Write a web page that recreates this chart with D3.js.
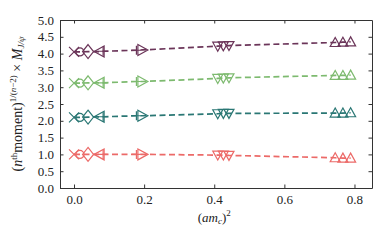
<!DOCTYPE html>
<html>
<head>
<meta charset="utf-8">
<script src="https://cdn.jsdelivr.net/npm/d3@7"></script>
<style>
  body { margin: 0; background: #fff; }
  text { font-family: "Liberation Serif", "DejaVu Serif", serif; fill: #222; }
</style>
</head>
<body>
<div id="chart"></div>
<script>
// x positions of the ensembles, (am_c)^2
var xVals = [0.0, 0.017, 0.04, 0.073, 0.083, 0.178, 0.195, 0.41, 0.426, 0.442, 0.745, 0.767, 0.789];
var markerTypes = ["x", "o", "D", "<", "+", "+", ">", "v", "v", "v", "^", "^", "^"];

// one array per moment, bottom to top
var redVals    = [1.00, 1.00, 1.00, 1.00, 1.00, 1.00, 1.00, 0.98, 0.98, 0.97, 0.90, 0.89, 0.89];
var tealVals   = [2.10, 2.10, 2.11, 2.12, 2.12, 2.15, 2.15, 2.21, 2.22, 2.22, 2.23, 2.23, 2.24];
var greenVals  = [3.12, 3.12, 3.13, 3.13, 3.13, 3.17, 3.17, 3.26, 3.27, 3.28, 3.35, 3.35, 3.36];
var purpleVals = [4.05, 4.05, 4.06, 4.06, 4.07, 4.10, 4.11, 4.22, 4.23, 4.24, 4.33, 4.34, 4.35];
var seriesColors = ["#ec6a68", "#2a7774", "#7dba6f", "#6b3559"];

var xTicks = [0.0, 0.2, 0.4, 0.6, 0.8];
var yTicks = [0.0, 0.5, 1.0, 1.5, 2.0, 2.5, 3.0, 3.5, 4.0, 4.5, 5.0];

var allSeries = [redVals, tealVals, greenVals, purpleVals];

var svgWidth = 390, svgHeight = 241;
var margin = {top: 20, right: 18, bottom: 53, left: 60};
var width = svgWidth - margin.left - margin.right,
    height = svgHeight - margin.top - margin.bottom;

var svg = d3.select("#chart")
  .append("svg")
  .attr("width", svgWidth)
  .attr("height", svgHeight)
  .append("g")
  .attr("transform", "translate(" + margin.left + "," + margin.top + ")");

var x = d3.scaleLinear().domain([-0.04, 0.85]).range([0, width]);
var y = d3.scaleLinear().domain([0, 5]).range([height, 0]);

// marker shapes
function markerPath(t) {
  var s = 5;
  switch (t) {
    case "x": return "M" + (-s) + "," + (-s) + "L" + s + "," + s + "M" + (-s) + "," + s + "L" + s + "," + (-s);
    case "o": return d3.symbol().type(d3.symbolCircle).size(Math.PI * 4 * 4)();
    case "D": return "M0,-7L5.5,0L0,7L-5.5,0Z";
    case "<": return "M-5.5,0L4.5,-5.5L4.5,5.5Z";
    case ">": return "M5.5,0L-4.5,-5.5L-4.5,5.5Z";
    case "v": return "M0,5L-5,-4L5,-4Z";
    case "^": return "M0,-5L-5,4L5,4Z";
    case "+": return "M-4.5,0L4.5,0M0,-4.5L0,4.5";
  }
}

var line = d3.line()
  .x(function (d, i) { return x(xVals[i]); })
  .y(function (d) { return y(d); });

allSeries.forEach(function (vals, k) {
  var col = seriesColors[k];
  svg.append("path")
    .datum(vals)
    .attr("d", line)
    .attr("fill", "none")
    .attr("stroke", col)
    .attr("stroke-width", 1.7)
    .attr("stroke-dasharray", "6,3.5");

  svg.append("g")
    .selectAll("path")
    .data(vals)
    .enter()
    .append("path")
      .attr("transform", function (d, i) { return "translate(" + x(xVals[i]) + "," + y(d) + ")"; })
      .attr("d", function (d, i) { return markerPath(markerTypes[i]); })
      .attr("fill", "none")
      .attr("stroke", col)
      .attr("stroke-width", 1.2);
});

// axes, ticks pointing inward on all four sides
function styleAxis(g) {
  g.select(".domain").attr("stroke", "#333");
  g.selectAll(".tick line").attr("stroke", "#333");
  g.selectAll("text").attr("font-size", 13);
}

svg.append("g")
  .attr("transform", "translate(0," + height + ")")
  .call(d3.axisBottom(x).tickValues(xTicks).tickFormat(d3.format(".1f")).tickSizeInner(-3.5).tickSizeOuter(0).tickPadding(7))
  .call(styleAxis);

svg.append("g")
  .call(d3.axisTop(x).tickValues(xTicks).tickFormat("").tickSizeInner(-3.5).tickSizeOuter(0))
  .call(styleAxis);

svg.append("g")
  .call(d3.axisLeft(y).tickValues(yTicks).tickFormat(d3.format(".1f")).tickSizeInner(-3.5).tickSizeOuter(0).tickPadding(6))
  .call(styleAxis);

svg.append("g")
  .attr("transform", "translate(" + width + ",0)")
  .call(d3.axisRight(y).tickValues(yTicks).tickFormat("").tickSizeInner(-3.5).tickSizeOuter(0))
  .call(styleAxis);

// axis labels
var xl = svg.append("text")
  .attr("x", x(0.4))
  .attr("y", height + 34)
  .attr("text-anchor", "middle")
  .attr("font-size", 13);
xl.append("tspan").text("(");
xl.append("tspan").attr("font-style", "italic").text("am");
xl.append("tspan").attr("font-style", "italic").attr("font-size", 9).attr("dy", 2).text("c");
xl.append("tspan").attr("dy", -2).text(")");
xl.append("tspan").attr("font-size", 9).attr("dy", -6).text("2");

var yl = svg.append("text")
  .attr("transform", "translate(-38," + (height / 2) + ") rotate(-90)")
  .attr("text-anchor", "middle")
  .attr("font-size", 14);
yl.append("tspan").text("(");
yl.append("tspan").attr("font-style", "italic").text("n");
yl.append("tspan").attr("font-size", 9).attr("dy", -5).text("th");
yl.append("tspan").attr("dy", 5).text("moment)");
yl.append("tspan").attr("font-size", 9).attr("dy", -6).text("1/(");
yl.append("tspan").attr("font-size", 9).attr("font-style", "italic").text("n");
yl.append("tspan").attr("font-size", 9).text("\u22122)");
yl.append("tspan").attr("dy", 6).text(" \u00d7 ");
yl.append("tspan").attr("font-style", "italic").text("M");
yl.append("tspan").attr("font-size", 9).attr("font-style", "italic").attr("dy", 2).text("J/\u03c8");
</script>
</body>
</html>
